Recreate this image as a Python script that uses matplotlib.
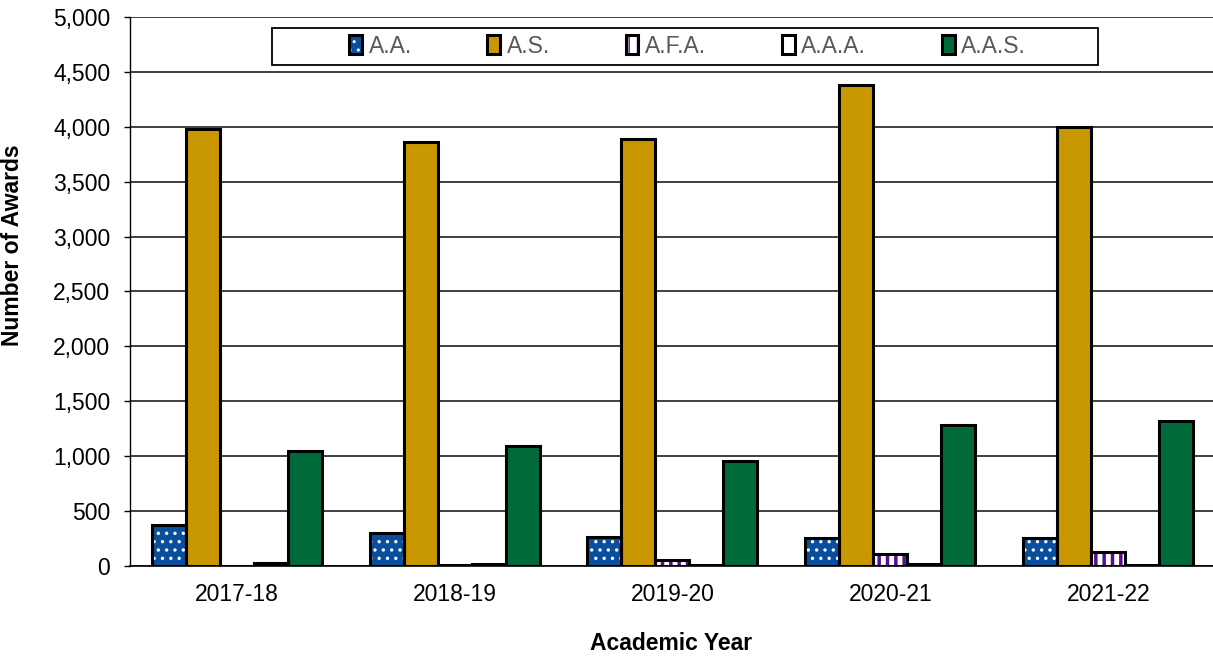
import matplotlib
matplotlib.use("Agg")
import matplotlib.pyplot as plt
from matplotlib.patches import Patch, Rectangle
from matplotlib.legend_handler import HandlerTuple
import numpy as np

plt.rcParams['font.family'] = ['Liberation Sans', 'DejaVu Sans']

years = ['2017-18', '2018-19', '2019-20', '2020-21', '2021-22']
aa = [375, 300, 265, 255, 250]
a_s = [3985, 3860, 3885, 4380, 3995]
afa = [0, 8, 50, 105, 128]
aaa = [30, 20, 10, 20, 12]
aas = [1050, 1095, 958, 1285, 1323]

labels = ['A.A.', 'A.S.', 'A.F.A.', 'A.A.A.', 'A.A.S.']
series = [aa, a_s, afa, aaa, aas]
# (fill, hatch, hatch colour)
styles = [
    ('#0A4F9E', '..', 'white'),
    ('#C99700', None, None),
    ('white', '||', '#5A0F8A'),
    ('white', None, None),
    ('#006A3B', None, None),
]

fig = plt.figure(figsize=(12.13, 6.58), dpi=100)
ax = fig.add_axes([0.107, 0.140, 0.893, 0.834])

x = np.arange(len(years))
w = 0.156
handles = []
for i, (vals, (fc, hatch, hc)) in enumerate(zip(series, styles)):
    pos = x + (i - 2) * w
    ax.bar(pos, vals, w, color=fc, edgecolor='none', linewidth=0, zorder=3)
    parts = [Patch(facecolor=fc, edgecolor='none')]
    if hatch:
        with plt.rc_context({'hatch.linewidth': 2.5 if hatch == '||' else 1.2}):
            ax.bar(pos, vals, w, color='none', edgecolor=hc, hatch=hatch,
                   linewidth=0, zorder=4)
            parts.append(Patch(facecolor='none', edgecolor=hc, hatch=hatch, linewidth=0))
    ax.bar(pos, vals, w, color='none', edgecolor='black', linewidth=2.2, zorder=5)
    parts.append(Patch(facecolor='none', edgecolor='black', linewidth=2.2))
    handles.append(tuple(parts))

ax.set_ylim(0, 5000)
ax.set_xlim(-0.49, 4.48)
ax.set_yticks(np.arange(0, 5001, 500))
ax.set_yticklabels([f'{v:,}' for v in range(0, 5001, 500)])
ax.set_xticks(x)
ax.set_xticklabels(years)
ax.yaxis.grid(True, color='#303030', linewidth=1.3, zorder=0)
ax.set_axisbelow(True)
for s in ['top', 'right']:
    ax.spines[s].set_visible(False)
ax.spines['left'].set_linewidth(1.0)
ax.spines['bottom'].set_linewidth(1.2)
ax.tick_params(axis='y', labelsize=16.5, length=4, width=1, pad=10)
ax.tick_params(axis='x', labelsize=16.5, length=0, pad=12)
ax.set_ylabel('Number of Awards', fontsize=16.5, fontweight='bold')
ax.yaxis.set_label_coords(-0.098, 0.585)
ax.set_xlabel('Academic Year', fontsize=16.5, fontweight='bold', labelpad=19)

# legend frame
ax.add_patch(Rectangle((0.131, 0.913), 0.763, 0.068, transform=ax.transAxes,
                       facecolor='white', edgecolor='black', linewidth=1.3,
                       zorder=6, clip_on=False))
leg = ax.legend(handles, labels, ncol=5, loc='center', bbox_to_anchor=(0.515, 0.947),
                frameon=False, fontsize=16.5, handlelength=0.55, handleheight=0.9,
                handletextpad=0.3, columnspacing=3.3,
                handler_map={tuple: HandlerTuple(ndivide=1, pad=0)})
for t in leg.get_texts():
    t.set_color('#595959')
leg.set_zorder(7)

fig.savefig('out.png', dpi=100)
